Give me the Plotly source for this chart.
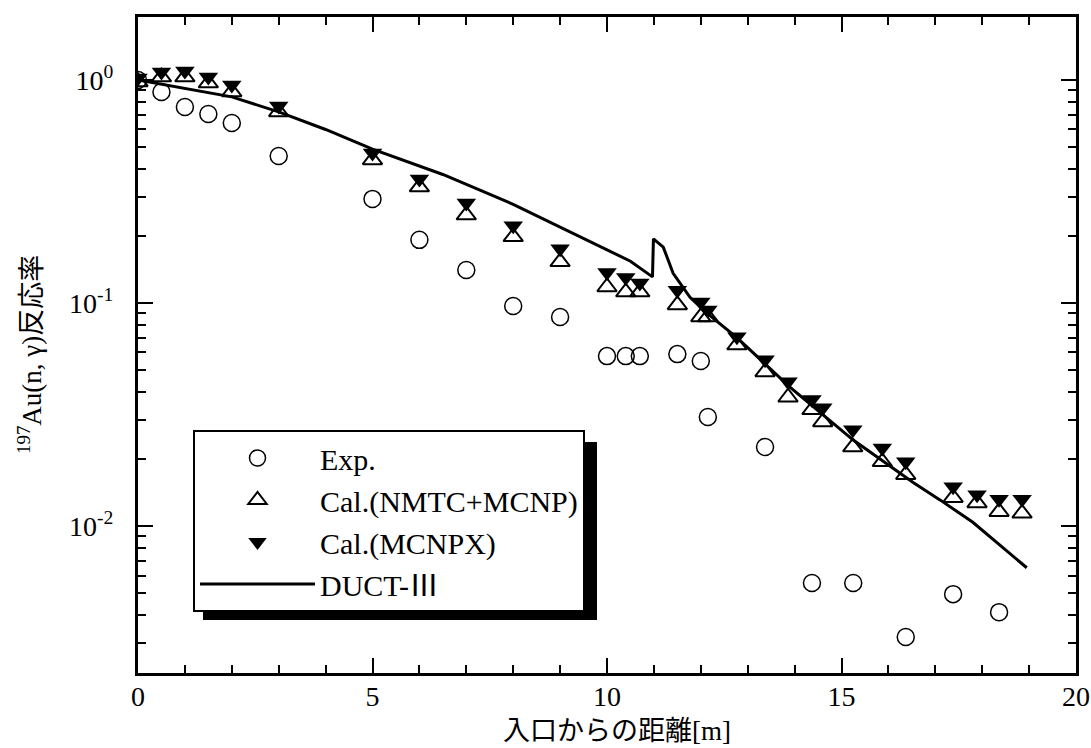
import plotly.graph_objects as go

# ---- data ----
exp_x = [0, 0.5, 1, 1.5, 2, 3, 5, 6, 7, 8, 9, 10, 10.4, 10.7, 11.5, 12.0, 12.15,
         13.37, 14.37, 15.25, 16.37, 17.38, 18.36]
exp_y = [1.0, 0.884, 0.757, 0.704, 0.641, 0.456, 0.293, 0.192, 0.1406, 0.097, 0.0866,
         0.0578, 0.0578, 0.0578, 0.059, 0.055, 0.0308, 0.0226, 0.00555, 0.00555,
         0.00318, 0.00495, 0.00411]

cal_x = [0, 0.5, 1, 1.5, 2, 3, 5, 6, 7, 8, 9, 10, 10.4, 10.7, 11.5, 12.0, 12.15,
         12.77, 13.37, 13.86, 14.37, 14.6, 15.24, 15.87, 16.37, 17.38, 17.89, 18.36, 18.85]
nmtc_y = [0.98, 1.031, 1.031, 0.969, 0.884, 0.719, 0.438, 0.331, 0.248, 0.198, 0.153,
          0.118, 0.112, 0.112, 0.098, 0.0866, 0.0866, 0.0648, 0.0491, 0.0378, 0.0332,
          0.0293, 0.0226, 0.0194, 0.0170, 0.0134, 0.0127, 0.0116, 0.0114]
mcnpx_y = [1.02, 1.086, 1.097, 1.031, 0.950, 0.764, 0.471, 0.360, 0.281, 0.222, 0.175,
           0.137, 0.130, 0.123, 0.114, 0.101, 0.093, 0.0706, 0.0557, 0.0443, 0.0369,
           0.0339, 0.0270, 0.0224, 0.0194, 0.0150, 0.0138, 0.0132, 0.0132]

duct_x = [0, 1, 2, 3, 4, 5, 6.5, 8, 9.4, 10.5, 10.97, 10.99, 11.2, 11.41, 11.77,
          12.13, 12.77, 13.9, 15.25, 16.52, 17.1, 17.8, 18.95]
duct_y = [1.0, 0.92, 0.84, 0.72, 0.60, 0.49, 0.377, 0.277, 0.20, 0.154, 0.131, 0.194,
          0.178, 0.136, 0.106, 0.090, 0.070, 0.042, 0.0243, 0.0157, 0.0131, 0.0104, 0.0065]

names = ["Exp.", "Cal.(NMTC+MCNP)", "Cal.(MCNPX)", "DUCT-Ⅲ"]
ytick_vals = [1, 0.1, 0.01]
ytick_text = ["10<sup>0</sup>", "10<sup>-1</sup>", "10<sup>-2</sup>"]
xtick_vals = [0, 5, 10, 15, 20]
x_title = "入口からの距離[m]"
y_title = "<sup>197</sup>Au(n, γ)反応率"

SERIF = "Liberation Serif, Noto Sans CJK JP, serif"

fig = go.Figure()
fig.add_trace(go.Scatter(x=exp_x, y=exp_y, mode="markers", name=names[0],
                         marker=dict(symbol="circle-open", size=17, color="black",
                                     line=dict(width=1.5, color="black"))))
fig.add_trace(go.Scatter(x=cal_x, y=nmtc_y, mode="markers", name=names[1],
                         marker=dict(symbol="triangle-up-open", size=17, color="black",
                                     line=dict(width=2, color="black"))))
fig.add_trace(go.Scatter(x=cal_x, y=mcnpx_y, mode="markers", name=names[2],
                         marker=dict(symbol="triangle-down", size=17, color="black",
                                     line=dict(width=0))))
fig.add_trace(go.Scatter(x=duct_x, y=duct_y, mode="lines", name=names[3],
                         line=dict(color="black", width=3)))

W, H = 1091, 748
ml, mr, mt, mb = 138, 15, 17, 75
pw, ph = W - ml - mr, H - mt - mb


def px2paper_x(px):
    return (px - ml) / pw


def px2paper_y(py):
    return (H - mb - py) / ph


axis_common = dict(showline=True, linecolor="black", linewidth=3, mirror="ticks",
                   ticks="inside", tickcolor="black", tickwidth=2, ticklen=15,
                   showgrid=False, zeroline=False, automargin=False,
                   tickfont=dict(family=SERIF, size=28, color="black"))

fig.update_layout(
    width=W, height=H,
    margin=dict(l=ml, r=mr, t=mt, b=mb, autoexpand=False),
    paper_bgcolor="white", plot_bgcolor="white",
    xaxis=dict(range=[0, 20], tickvals=xtick_vals, ticklabelstandoff=-4,
               minor=dict(ticks="inside", dtick=1, ticklen=8, tickwidth=1.5,
                          tickcolor="black", showgrid=False),
               **axis_common),
    yaxis=dict(type="log", range=[-2.659, 0.2825], tickvals=ytick_vals,
               ticktext=ytick_text, ticklabelstandoff=16,
               minor=dict(ticks="inside", ticklen=8, tickwidth=1.5, tickcolor="black",
                          dtick="D1", showgrid=False),
               **axis_common),
    legend=dict(x=px2paper_x(193), y=px2paper_y(612), xanchor="left", yanchor="bottom",
                bgcolor="white", bordercolor="black", borderwidth=2,
                font=dict(family=SERIF, size=30, color="black"),
                itemwidth=115, tracegroupgap=0),
    showlegend=True,
    shapes=[dict(type="rect", xref="paper", yref="paper", layer="above",
                 x0=px2paper_x(203), x1=px2paper_x(597),
                 y0=px2paper_y(620), y1=px2paper_y(442),
                 fillcolor="black", line=dict(width=0))],
    annotations=[
        dict(text=x_title, xref="paper", yref="paper", x=px2paper_x(617),
             y=px2paper_y(731), xanchor="center", yanchor="middle", showarrow=False,
             font=dict(family=SERIF, size=27, color="black")),
        dict(text=y_title, xref="paper", yref="paper", x=px2paper_x(30),
             y=px2paper_y(355), xanchor="center", yanchor="middle", showarrow=False,
             textangle=-90, font=dict(family=SERIF, size=27, color="black")),
    ],
)

fig.write_html(
    "out.html",
    config={"displayModeBar": False},
    post_script="document.body.style.margin='0';document.body.style.overflow='hidden';",
)
